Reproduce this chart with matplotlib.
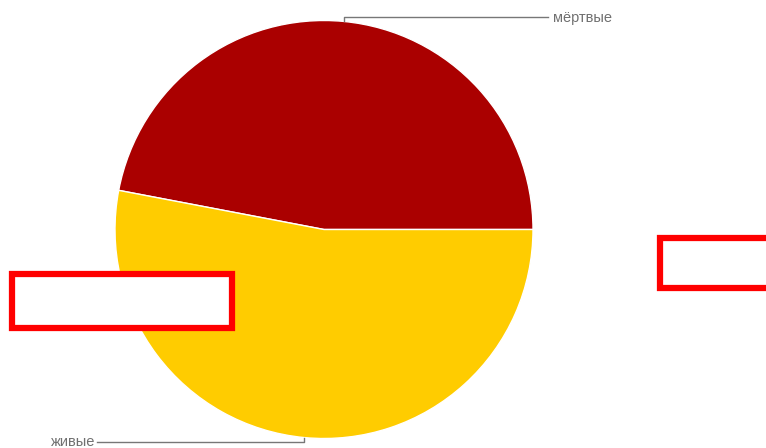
import matplotlib.pyplot as plt
import matplotlib.patches as mpatches
import numpy as np

labels = ['мёртвые', 'живые']
values = [47.0, 53.0]
colors = ['#aa0000', '#ffcc00']

W, H = 766, 448
fig = plt.figure(figsize=(W / 100, H / 100), dpi=100)
ax = fig.add_axes([0, 0, 1, 1])

cx, cy, r = 324, H - 229.5, 209
wedges, _ = ax.pie(values, colors=colors, startangle=0, counterclock=True,
                   center=(cx, cy), radius=r, frame=True,
                   wedgeprops=dict(edgecolor='white', linewidth=1))
ax.set_xlim(0, W)
ax.set_ylim(0, H)
ax.set_aspect('equal')
ax.axis('off')

# leader lines + labels
for w, lab in zip(wedges, labels):
    mid = np.deg2rad((w.theta1 + w.theta2) / 2)
    x0 = cx + r * np.cos(mid)
    y0 = cy + r * np.sin(mid)
    if np.sin(mid) > 0:
        y1 = y0 + 4
        x1 = 548
        ax.plot([x0, x0, x1], [y0, y1, y1], color='#777777', lw=1)
        ax.text(x1 + 5, y1 - 1, lab, ha='left', va='center', fontsize=10.5,
                color='#707070', family='Liberation Sans')
    else:
        y1 = y0 - 4
        x1 = 97
        ax.plot([x0, x0, x1], [y0, y1, y1], color='#777777', lw=1)
        ax.text(x1 - 2, y1, lab, ha='right', va='center', fontsize=10.5,
                color='#707070', family='Liberation Sans')

# red outline boxes
for (x, y, bw, bh) in [(12, 274, 220, 54), (660, 238, 120, 50)]:
    ax.add_patch(mpatches.Rectangle((x, H - y - bh), bw, bh, facecolor='white',
                                    edgecolor='#ff0000', linewidth=4.5,
                                    clip_on=False, zorder=5))

fig.savefig('out.png', dpi=100)
